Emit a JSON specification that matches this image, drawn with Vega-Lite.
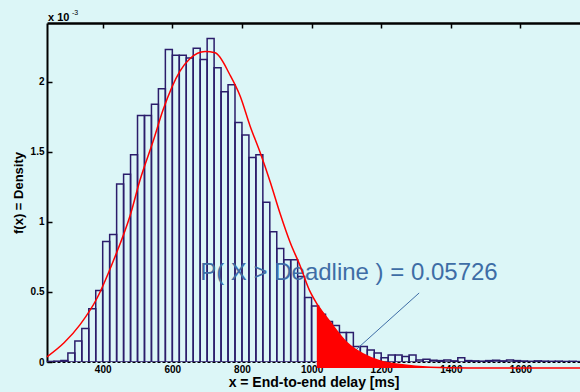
{
  "$schema": "https://vega.github.io/schema/vega-lite/v6.json",
  "autosize": "none",
  "width": 533,
  "height": 339,
  "padding": {"left": 47, "top": 23, "right": 0, "bottom": 30},
  "background": "#dcf6f7",
  "config": {"view": {"stroke": null, "fill": "#dcf6f7"}, "font": "Liberation Sans"},
  "datasets": {
    "bins": [
      {"b0": 240, "b1": 260, "d": 0.004}, {"b0": 260, "b1": 280, "d": 0.006}, {"b0": 280, "b1": 300, "d": 0.01},
      {"b0": 300, "b1": 320, "d": 0.064}, {"b0": 320, "b1": 340, "d": 0.15}, {"b0": 340, "b1": 360, "d": 0.24},
      {"b0": 360, "b1": 380, "d": 0.38}, {"b0": 380, "b1": 400, "d": 0.51}, {"b0": 400, "b1": 420, "d": 0.86},
      {"b0": 420, "b1": 440, "d": 0.91}, {"b0": 440, "b1": 460, "d": 1.27}, {"b0": 460, "b1": 480, "d": 1.34},
      {"b0": 480, "b1": 500, "d": 1.48}, {"b0": 500, "b1": 520, "d": 1.76}, {"b0": 520, "b1": 540, "d": 1.76},
      {"b0": 540, "b1": 560, "d": 1.84}, {"b0": 560, "b1": 580, "d": 1.95}, {"b0": 580, "b1": 600, "d": 2.23},
      {"b0": 600, "b1": 620, "d": 2.19}, {"b0": 620, "b1": 640, "d": 2.19}, {"b0": 640, "b1": 660, "d": 2.17},
      {"b0": 660, "b1": 680, "d": 2.24}, {"b0": 680, "b1": 700, "d": 2.16}, {"b0": 700, "b1": 720, "d": 2.31},
      {"b0": 720, "b1": 740, "d": 2.10}, {"b0": 740, "b1": 760, "d": 1.93}, {"b0": 760, "b1": 780, "d": 1.98},
      {"b0": 780, "b1": 800, "d": 1.71}, {"b0": 800, "b1": 820, "d": 1.62}, {"b0": 820, "b1": 840, "d": 1.46},
      {"b0": 840, "b1": 860, "d": 1.48}, {"b0": 860, "b1": 880, "d": 1.14}, {"b0": 880, "b1": 900, "d": 0.93},
      {"b0": 900, "b1": 920, "d": 0.81}, {"b0": 920, "b1": 940, "d": 0.73}, {"b0": 940, "b1": 960, "d": 0.73},
      {"b0": 960, "b1": 980, "d": 0.61}, {"b0": 980, "b1": 1000, "d": 0.46}, {"b0": 1000, "b1": 1020, "d": 0.40},
      {"b0": 1020, "b1": 1040, "d": 0.34}, {"b0": 1040, "b1": 1060, "d": 0.29}, {"b0": 1060, "b1": 1080, "d": 0.26},
      {"b0": 1080, "b1": 1100, "d": 0.21}, {"b0": 1100, "b1": 1120, "d": 0.21}, {"b0": 1120, "b1": 1140, "d": 0.11},
      {"b0": 1140, "b1": 1160, "d": 0.11}, {"b0": 1160, "b1": 1180, "d": 0.086}, {"b0": 1180, "b1": 1200, "d": 0.064},
      {"b0": 1200, "b1": 1220, "d": 0.03}, {"b0": 1220, "b1": 1240, "d": 0.05}, {"b0": 1240, "b1": 1260, "d": 0.05},
      {"b0": 1260, "b1": 1280, "d": 0.04}, {"b0": 1280, "b1": 1300, "d": 0.05}, {"b0": 1300, "b1": 1320, "d": 0.015},
      {"b0": 1320, "b1": 1340, "d": 0.02}, {"b0": 1340, "b1": 1360, "d": 0.012}, {"b0": 1360, "b1": 1380, "d": 0.01},
      {"b0": 1380, "b1": 1400, "d": 0.015}, {"b0": 1400, "b1": 1420, "d": 0.008}, {"b0": 1420, "b1": 1440, "d": 0.03},
      {"b0": 1440, "b1": 1460, "d": 0.01}, {"b0": 1460, "b1": 1480, "d": 0.008}, {"b0": 1480, "b1": 1500, "d": 0.006},
      {"b0": 1500, "b1": 1520, "d": 0.01}, {"b0": 1520, "b1": 1540, "d": 0.012}, {"b0": 1540, "b1": 1560, "d": 0.008},
      {"b0": 1560, "b1": 1580, "d": 0.015}, {"b0": 1580, "b1": 1600, "d": 0.01}, {"b0": 1600, "b1": 1620, "d": 0.007},
      {"b0": 1620, "b1": 1640, "d": 0.005}, {"b0": 1640, "b1": 1660, "d": 0.008}, {"b0": 1660, "b1": 1680, "d": 0.006},
      {"b0": 1680, "b1": 1700, "d": 0.005}, {"b0": 1700, "b1": 1720, "d": 0.006}, {"b0": 1720, "b1": 1740, "d": 0.004},
      {"b0": 1740, "b1": 1760, "d": 0.005}, {"b0": 1760, "b1": 1780, "d": 0.003}
    ],
    "curve": [
      {"v": 240, "f": 0.08}, {"v": 289, "f": 0.18}, {"v": 335, "f": 0.31}, {"v": 384, "f": 0.50},
      {"v": 433, "f": 0.78}, {"v": 479, "f": 1.09}, {"v": 507, "f": 1.34}, {"v": 545, "f": 1.62},
      {"v": 573, "f": 1.84}, {"v": 622, "f": 2.12}, {"v": 651, "f": 2.21}, {"v": 694, "f": 2.26},
      {"v": 723, "f": 2.25}, {"v": 766, "f": 2.09}, {"v": 795, "f": 1.94}, {"v": 823, "f": 1.73},
      {"v": 852, "f": 1.54}, {"v": 881, "f": 1.33}, {"v": 910, "f": 1.10}, {"v": 938, "f": 0.90},
      {"v": 967, "f": 0.73}, {"v": 993, "f": 0.56}, {"v": 1015, "f": 0.46}, {"v": 1053, "f": 0.33},
      {"v": 1102, "f": 0.18}, {"v": 1148, "f": 0.10}, {"v": 1197, "f": 0.05}, {"v": 1254, "f": 0.025},
      {"v": 1341, "f": 0.005}, {"v": 1450, "f": 0}, {"v": 1771, "f": 0}
    ]
  },
  "layer": [
    {
      "layer": [
        {
          "data": {"name": "bins"},
          "mark": {"type": "rect", "fill": "#dcf6f7", "fillOpacity": 0, "stroke": "#2b1d6b", "strokeWidth": 1.5, "clip": true},
          "encoding": {
            "x": {"field": "b0", "type": "quantitative",
                  "scale": {"domain": [240, 1771], "nice": false, "zero": false},
                  "axis": {"orient": "bottom", "title": "x = End-to-end delay [ms]", "values": [400, 600, 800, 1000, 1200, 1400, 1600],
                           "format": "d", "ticks": false, "domain": true, "domainColor": "#000000", "domainDash": [3, 2], "domainWidth": 1,
                           "grid": false, "labelFont": "Liberation Sans", "labelFontWeight": "bold", "labelFontSize": 10, "labelColor": "#000000",
                           "labelPadding": 2, "titleFont": "Liberation Sans", "titleFontWeight": "bold", "titleFontSize": 14, "titleColor": "#000000",
                           "titlePadding": 1}},
            "x2": {"field": "b1"},
            "y": {"field": "d", "type": "quantitative",
                  "scale": {"domain": [0, 2.42], "nice": false},
                  "axis": {"orient": "left", "title": "f(x) = Density", "values": [0, 0.5, 1, 1.5, 2], "labelExpr": "'' + datum.value",
                           "grid": false, "domainColor": "#000000", "domainWidth": 2, "tickColor": "#000000", "tickWidth": 1.5, "tickSize": -5,
                           "labelFont": "Liberation Sans", "labelFontWeight": "bold", "labelFontSize": 10, "labelColor": "#000000", "labelPadding": 8,
                           "titleFont": "Liberation Sans", "titleFontWeight": "bold", "titleFontSize": 13, "titleColor": "#000000", "titlePadding": 5}},
            "y2": {"datum": 0}
          }
        },
        {
          "data": {"values": [{"t": "P( X > Deadline ) = 0.05726"}]},
          "mark": {"type": "text", "align": "left", "baseline": "alphabetic", "fontSize": 24, "font": "Liberation Sans", "color": "#3e6da6"},
          "encoding": {"x": {"datum": 680, "type": "quantitative"}, "y": {"datum": 0.586, "type": "quantitative"}, "text": {"field": "t"}}
        },
        {
          "data": {"values": [{"a": 1}]},
          "mark": {"type": "rule", "color": "#3e6da6", "strokeWidth": 1},
          "encoding": {"x": {"datum": 1309, "type": "quantitative"}, "y": {"datum": 0.493, "type": "quantitative"},
                       "x2": {"datum": 1122}, "y2": {"datum": 0.075}}
        },
        {
          "data": {"values": [{"a": 1}]},
          "mark": {"type": "point", "shape": "triangle-up", "filled": true, "color": "#3e6da6", "size": 70, "angle": 228, "opacity": 1},
          "encoding": {"x": {"datum": 1118, "type": "quantitative"}, "y": {"datum": 0.068, "type": "quantitative"}}
        },
        {
          "data": {"values": [{"t": "x 10"}]},
          "mark": {"type": "text", "align": "left", "baseline": "alphabetic", "fontSize": 11, "fontWeight": "bold", "font": "Liberation Sans", "color": "#000000", "dx": 1},
          "encoding": {"x": {"datum": 240, "type": "quantitative"}, "y": {"datum": 2.436, "type": "quantitative"}, "text": {"field": "t"}}
        },
        {
          "data": {"values": [{"t": "-3"}]},
          "mark": {"type": "text", "align": "left", "baseline": "alphabetic", "fontSize": 7, "font": "Liberation Sans", "color": "#000000", "dx": 25},
          "encoding": {"x": {"datum": 240, "type": "quantitative"}, "y": {"datum": 2.479, "type": "quantitative"}, "text": {"field": "t"}}
        }
      ]
    },
    {
      "layer": [
        {
          "data": {"name": "curve"},
          "transform": [{"filter": "datum.v >= 1015"}],
          "mark": {"type": "area", "color": "#ff0000", "interpolate": "monotone", "opacity": 1},
          "encoding": {
            "x": {"field": "v", "type": "quantitative", "scale": {"domain": [240, 1771], "nice": false, "zero": false},
                  "axis": {"orient": "top", "title": null, "labels": false, "values": [400, 600, 800, 1000, 1200, 1400, 1600],
                           "domainColor": "#000000", "domainWidth": 2.5, "tickColor": "#000000", "tickWidth": 1.5, "tickSize": -5, "grid": false}},
            "y": {"field": "f", "type": "quantitative", "scale": {"domain": [0.043, 2.463], "nice": false, "zero": false}, "axis": null},
            "y2": {"datum": 0}
          }
        },
        {
          "data": {"name": "curve"},
          "mark": {"type": "line", "color": "#ff0000", "strokeWidth": 1.5, "interpolate": "monotone"},
          "encoding": {
            "x": {"field": "v", "type": "quantitative"},
            "y": {"field": "f", "type": "quantitative"}
          }
        }
      ]
    }
  ],
  "resolve": {"scale": {"y": "independent"}, "axis": {"x": "independent"}}
}
